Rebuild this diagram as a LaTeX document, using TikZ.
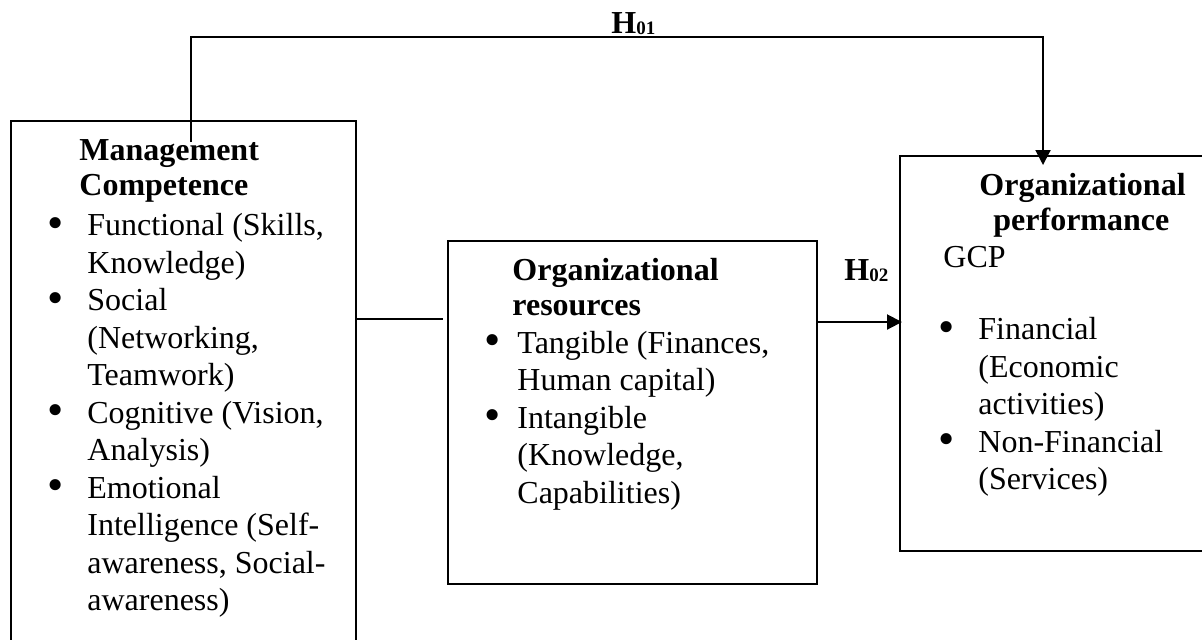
\documentclass[tikz,border=0pt]{standalone}
\usepackage{fontspec}
\setmainfont{Liberation Serif}
\usepackage{graphicx}
\usetikzlibrary{arrows.meta,positioning}
\newcommand{\mcbullet}[1]{\makebox[#1][l]{\raisebox{-1.2pt}{\scalebox{1.45}{\textbullet}}}}
\newcommand{\mchang}[1]{\hspace*{#1}}
\newcommand{\hsub}[1]{\textbf{H}\raisebox{-0.75pt}{\fontsize{9.5}{9.5}\selectfont\textbf{#1}}}

\begin{document}
\begin{tikzpicture}[
    x=0.5pt, y=-0.5pt,
    box/.style={draw, line width=0.75pt, inner sep=0, anchor=north west},
    body/.style={inner sep=0, anchor=north west, align=left, font=\fontsize{16}{18.75}\selectfont},
    hyp/.style={inner sep=0, anchor=base west, font=\fontsize{16}{18}\selectfont},
    link/.style={line width=1pt},
    tip/.style={-{Triangle[length=7.5pt,width=7.5pt]}}]
\useasboundingbox (0,0) rectangle (1202,639);
\clip (0,0) rectangle (1202,639);

\node[box, minimum width=172.5pt, minimum height=280pt] (mgmt) at (10,120) {};
\node[box, minimum width=184.5pt, minimum height=171.5pt] (res) at (447,240) {};
\node[box, minimum width=170pt, minimum height=197.5pt] (perf) at (899,155) {};

\node[body] (mgmtText) at (47,139) {%
 \mchang{16pt}\textbf{Management}\\[-1.25pt]
 \mchang{16pt}\textbf{Competence}\\[1.5pt]
 \mcbullet{20pt}Functional (Skills,\\
 \mchang{20pt}Knowledge)\\
 \mcbullet{20pt}Social\\
 \mchang{20pt}(Networking,\\
 \mchang{20pt}Teamwork)\\
 \mcbullet{20pt}Cognitive (Vision,\\
 \mchang{20pt}Analysis)\\
 \mcbullet{20pt}Emotional\\
 \mchang{20pt}Intelligence (Self-\\
 \mchang{20pt}awareness, Social-\\
 \mchang{20pt}awareness)};

\node[body] (resText) at (484,258.3) {%
 \mchang{14pt}\textbf{Organizational}\\[-1.25pt]
 \mchang{14pt}\textbf{resources}\\
 \mcbullet{16.5pt}Tangible (Finances,\\
 \mchang{16.5pt}Human capital)\\
 \mcbullet{16.5pt}Intangible\\
 \mchang{16.5pt}(Knowledge,\\
 \mchang{16.5pt}Capabilities)};

\node[body] (perfText) at (938,173.3) {%
 \mchang{20.5pt}\textbf{Organizational}\\[-1.25pt]
 \mchang{27.5pt}\textbf{performance}\\[-0.25pt]
 \mchang{2.5pt}GCP\\[17.25pt]
 \mcbullet{20pt}Financial\\
 \mchang{20pt}(Economic\\
 \mchang{20pt}activities)\\
 \mcbullet{20pt}Non-Financial\\
 \mchang{20pt}(Services)};

\coordinate (h1l) at (191,37);
\coordinate (h1r) at (1043,37);
\coordinate (c1) at (0,319);
\coordinate (c2) at (0,322);

\draw[link, tip] ([yshift=-11pt]h1l |- mgmt.north) -- (h1l) -- (h1r) -- ([yshift=-5pt]h1r |- perf.north);
\draw[link] (mgmt.east |- c1) -- ([xshift=-2pt]res.west |- c1);
\draw[link, tip] (res.east |- c2) -- ([xshift=1.5pt]perf.west |- c2);

\node[hyp] (h01) at (611,33) {\hsub{01}};
\node[hyp] (h02) at (844,280) {\hsub{02}};
\end{tikzpicture}
\end{document}
